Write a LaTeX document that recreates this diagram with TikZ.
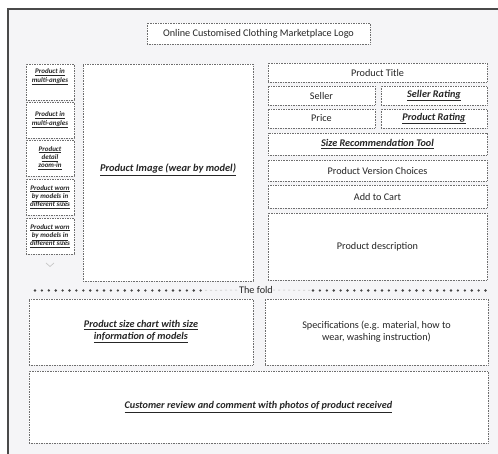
\documentclass[tikz,border=0pt]{standalone}
\usepackage{fontspec}
\setmainfont{Carlito}
\definecolor{bgc}{HTML}{F5F5F7}
\definecolor{txt}{HTML}{262626}
\definecolor{brd}{HTML}{6E6E6E}
\definecolor{frm}{HTML}{4A4A4A}
\newcommand{\bul}[1]{\textbf{\textit{\underline{#1}}}}
\tikzset{
  box/.style={draw=brd, densely dotted, line width=0.65pt, fill=white, inner sep=1pt, text=txt, align=center, font=\fontsize{10.2}{12}\selectfont},
  thumb/.style={box, minimum width=48, minimum height=36, font=\fontsize{7}{8.3}\selectfont},
  lbl/.style={text=txt, align=center, inner sep=0pt},
  folddots/.style={draw=frm!90!black, line width=2.6pt, line cap=round, dash pattern=on 0pt off 6.9pt},
  faintdots/.style={draw=gray!30, line width=1pt, dash pattern=on 2pt off 3pt}
}
\begin{document}
\begin{tikzpicture}[x=1pt, y=-1pt]
\useasboundingbox (0,0) rectangle (498,454);
\fill[white] (0,0) rectangle (498,454);
\fill[bgc] (8,9) rectangle (498,454);
\draw[frm, line width=1.6pt] (8,454) -- (8,9) -- (498,9);

% header
\node[box, minimum width=223, minimum height=21] (logo) at (258.5,33.5) {Online Customised Clothing Marketplace Logo};

% thumbnails
\node[thumb] (th1) at (50,82) {};
\node[lbl, font=\fontsize{7}{8.3}\selectfont] (th1t) at (50,77) {\bul{Product in}\\\bul{multi-angles}};
\node[thumb] (th2) at (50,120) {\bul{Product in}\\\bul{multi-angles}};
\node[thumb] (th3) at (50,158) {\bul{Product}\\\bul{detail}\\\bul{zoom-in}};
\node[thumb] (th4) at (50,197) {\bul{Product worn}\\\bul{by models in}\\\bul{different sizes}};
\node[thumb] (th5) at (50,236) {\bul{Product worn}\\\bul{by models in}\\\bul{different sizes}};
\draw[gray!45, line width=0.7pt] (46,263) -- (50,266.5) -- (54,263);

% main image
\node[box, minimum width=170, minimum height=217] (img) at (168,172.5) {};
\node[lbl, font=\fontsize{10.4}{12}\selectfont] (imgt) at (168,170) {\bul{Product Image (wear by model)}};

% right column
\node[box, minimum width=219, minimum height=19] (title) at (377.5,72.5) {Product Title};
\node[box, minimum width=107, minimum height=19] (seller) at (321.5,95.5) {Seller};
\node[box, minimum width=106, minimum height=19] (srate) at (434,95.5) {\bul{Seller Rating}};
\node[box, minimum width=107, minimum height=19] (price) at (321.5,118.5) {Price};
\node[box, minimum width=106, minimum height=19] (prate) at (434,118.5) {\bul{Product Rating}};
\node[box, minimum width=219, minimum height=22] (sizetool) at (377.5,144) {\bul{Size Recommendation Tool}};
\node[box, minimum width=219, minimum height=21] (version) at (377.5,170.5) {Product Version Choices};
\node[box, minimum width=219, minimum height=23] (cart) at (377.5,196.5) {Add to Cart};
\node[box, minimum width=219, minimum height=67] (desc) at (377.5,246.5) {Product description};

% the fold
\node[lbl, font=\fontsize{10.2}{12}\selectfont] (fold) at (256,290) {The fold};
\coordinate (fl1) at (35,290.5);
\coordinate (fl2) at (205,290.5);
\coordinate (fr1) at (313,290.5);
\coordinate (fr2) at (489,290.5);
\draw[faintdots] (fl2) -- (fold.west);
\draw[faintdots] (fold.east) -- (fr1);
\draw[folddots] (fl1) -- (fl2);
\draw[folddots] (fr1) -- (fr2);

% below the fold
\node[box, minimum width=224, minimum height=66] (chart) at (141,332) {\bul{Product size chart with size}\\\bul{information of models}};
\node[box, minimum width=223, minimum height=66] (spec) at (376.5,332) {Specifications (e.g. material, how to\\wear, washing instruction)};
\node[box, minimum width=459, minimum height=72] (review) at (258.5,407) {\bul{Customer review and comment with photos of product received}};
\end{tikzpicture}
\end{document}
